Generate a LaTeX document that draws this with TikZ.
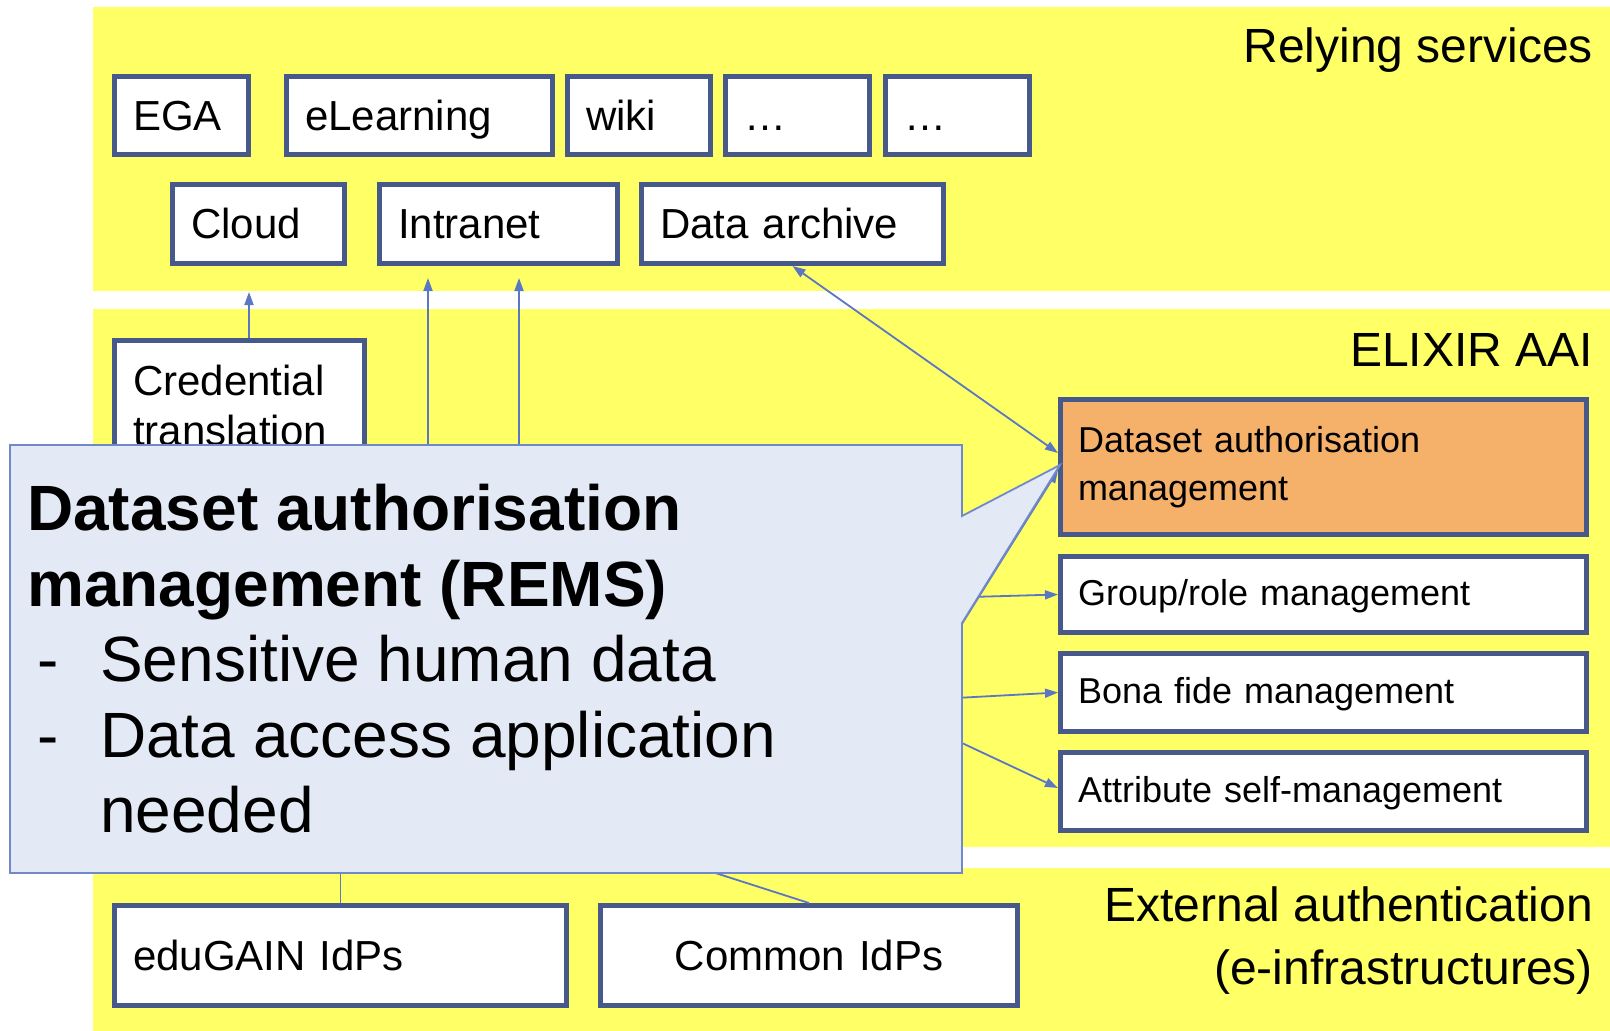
\documentclass[tikz,border=0pt]{standalone}
\usepackage{fontspec}
\setmainfont{Liberation Sans}
\usetikzlibrary{arrows.meta, positioning, calc}
\definecolor{aaiyellow}{HTML}{FFFF66}
\definecolor{aaiframe}{HTML}{46598A}
\definecolor{aaiarrow}{HTML}{5B77C2}
\definecolor{aaiorange}{HTML}{F5B06A}
\definecolor{aainote}{HTML}{E3E9F5}
\definecolor{aainoteline}{HTML}{7189CA}

\begin{document}
\begin{tikzpicture}[
  x=1pt, y=-1pt,
  every node/.style={inner sep=0pt},
  layer/.style={font=\fontsize{48}{63}\selectfont, align=right},
  svc/.style={rectangle, draw=aaiframe, line width=5pt, fill=white, align=left,
    font=\fontsize{42}{50}\selectfont, inner xsep=18.5pt, inner ysep=0pt},
  oneline/.style={text height=29pt, text depth=0pt},
  func/.style={svc, font=\fontsize{36}{48}\selectfont, inner xsep=17.5pt, text width=491pt},
  funcline/.style={text height=26pt, text depth=5pt},
  link/.style={draw=aaiarrow, line width=1.8pt},
  arr/.style={link, -{Triangle[length=13pt, width=9pt]}},
  note/.style={fill=aainote, draw=aainoteline, line width=1.8pt},
]
\useasboundingbox (0,0) rectangle (1610,1031);

% layers
\fill[aaiyellow] (93,7) rectangle (1610,291);
\fill[aaiyellow] (93,309) rectangle (1610,847);
\fill[aaiyellow] (93,868) rectangle (1610,1031);
\node[layer, anchor=base east] (lblrs) at (1593,62) {Relying services};
\node[layer, anchor=base east] (lblaai) at (1593,366) {ELIXIR AAI};
\node[layer, anchor=north east] (lblext) at (1593,887) {External authentication\\(e-infrastructures)};

% relying services
\node[svc, oneline, text width=97pt, minimum height=78pt] (ega) at (181.5,115.5) {EGA};
\node[svc, oneline, text width=229pt, minimum height=78pt] (elearn) at (419.5,115.5) {eLearning};
\node[svc, oneline, text width=106pt, minimum height=78pt] (wiki) at (639,115.5) {wiki};
\node[svc, oneline, text width=107pt, minimum height=78pt] (more1) at (797.5,115.5) {…};
\node[svc, oneline, text width=107pt, minimum height=78pt] (more2) at (957.5,115.5) {…};
\node[svc, oneline, text width=135pt, minimum height=79pt] (cloud) at (258.5,224) {Cloud};
\node[svc, oneline, text width=201pt, minimum height=79pt] (intranet) at (498.5,224) {Intranet};
\node[svc, oneline, text width=265pt, minimum height=79pt] (archive) at (792.5,224) {Data archive};

% ELIXIR AAI
\node[svc, text width=213pt, minimum height=130pt] (cred) at (239.5,405.5) {Credential\\translation};
\node[func, fill=aaiorange, minimum height=135pt] (dam) at (1323.5,467) {Dataset authorisation\\management};
\node[func, funcline, minimum height=76pt] (group) at (1323.5,594.5) {Group/role management};
\node[func, funcline, minimum height=78pt] (bona) at (1323.5,692.5) {Bona fide management};
\node[func, funcline, minimum height=78pt] (attr) at (1323.5,791.5) {Attribute self-management};

% external authentication
\node[svc, oneline, text width=415pt, minimum height=100pt] (edugain) at (340.5,955.5) {eduGAIN IdPs};
\node[svc, oneline, text width=380pt, minimum height=100pt, align=center] (common) at (809,955.5) {Common IdPs};

% connectors (their hubs sit behind the note)
\coordinate (hubup) at (480,600);
\coordinate (hubright) at (900,701);
\coordinate (hubdown) at (341,800);
\coordinate (hubidp) at (600,836);
\coordinate (intraA) at ([xshift=-70.5pt, yshift=-12pt]intranet.south);
\coordinate (intraB) at ([xshift=20.5pt, yshift=-12pt]intranet.south);
\draw[arr] ([xshift=9.5pt]cred.north) -- ([xshift=-9.5pt, yshift=-26pt]cloud.south);
\draw[arr] (intraA |- hubup) -- (intraA);
\draw[arr] (intraB |- hubup) -- (intraB);
\draw[link, {Triangle[length=13pt, width=9pt]}-{Triangle[length=13pt, width=9pt]}] (archive.south) -- ([yshift=14pt]dam.west);
\draw[arr] ([yshift=-22pt]hubright) -- ([yshift=-3pt]dam.west);
\draw[arr] ([yshift=102pt]hubright) -- (group.west);
\draw[arr] (hubright) -- (bona.west);
\draw[arr] ([yshift=-13pt]hubright) -- ([yshift=3.5pt]attr.west);
\draw[link] (edugain.north |- hubdown) -- (edugain.north);
\draw[link] (hubidp) -- (common.north);

% REMS note
\draw[note] (10,445) -- (962,445) -- (962,516) -- (1060,465) -- (962,623) -- (962,873) -- (10,873) -- cycle;
\node[anchor=north west, align=left, font=\fontsize{64}{75.5}\selectfont] (rems) at (27,484)
  {\textbf{Dataset authorisation}\\\textbf{management (REMS)}\\
   \makebox[73pt][l]{\hspace{10pt}-}Sensitive human data\\
   \makebox[73pt][l]{\hspace{10pt}-}Data access application\\
   \makebox[73pt][l]{}needed};

\end{tikzpicture}
\end{document}
